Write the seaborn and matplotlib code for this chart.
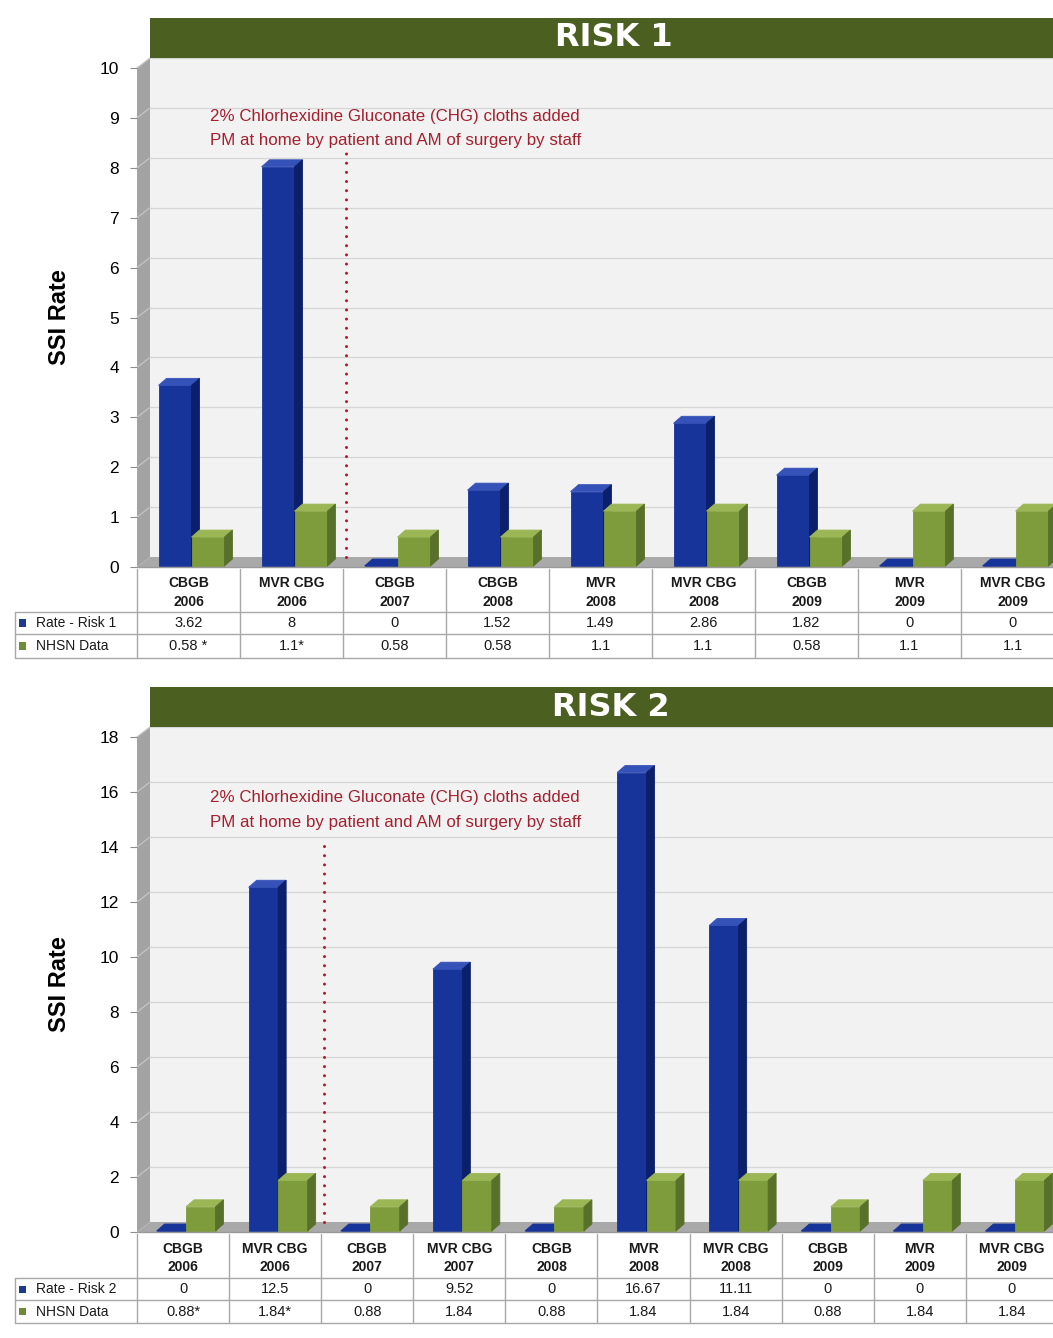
import numpy as np
import pandas as pd
import matplotlib
matplotlib.use("Agg")
import matplotlib.pyplot as plt
from matplotlib import font_manager
from matplotlib.patches import Polygon, Rectangle
from matplotlib.lines import Line2D
from matplotlib.transforms import IdentityTransform
import seaborn as sns

# ---------------- data ----------------
cats_risk1 = ["CBGB\n2006", "MVR CBG\n2006", "CBGB\n2007", "CBGB\n2008", "MVR\n2008",
              "MVR CBG\n2008", "CBGB\n2009", "MVR\n2009", "MVR CBG\n2009"]
rate_risk1 = [3.62, 8, 0, 1.52, 1.49, 2.86, 1.82, 0, 0]
nhsn_risk1 = [0.58, 1.1, 0.58, 0.58, 1.1, 1.1, 0.58, 1.1, 1.1]
rate_text_risk1 = ["3.62", "8", "0", "1.52", "1.49", "2.86", "1.82", "0", "0"]
nhsn_text_risk1 = ["0.58 *", "1.1*", "0.58", "0.58", "1.1", "1.1", "0.58", "1.1", "1.1"]
ticks_risk1 = [0, 1, 2, 3, 4, 5, 6, 7, 8, 9, 10]

cats_risk2 = ["CBGB\n2006", "MVR CBG\n2006", "CBGB\n2007", "MVR CBG\n2007", "CBGB\n2008",
              "MVR\n2008", "MVR CBG\n2008", "CBGB\n2009", "MVR\n2009", "MVR CBG\n2009"]
rate_risk2 = [0, 12.5, 0, 9.52, 0, 16.67, 11.11, 0, 0, 0]
nhsn_risk2 = [0.88, 1.84, 0.88, 1.84, 0.88, 1.84, 1.84, 0.88, 1.84, 1.84]
rate_text_risk2 = ["0", "12.5", "0", "9.52", "0", "16.67", "11.11", "0", "0", "0"]
nhsn_text_risk2 = ["0.88*", "1.84*", "0.88", "1.84", "0.88", "1.84", "1.84", "0.88", "1.84", "1.84"]
ticks_risk2 = [0, 2, 4, 6, 8, 10, 12, 14, 16, 18]

note_lines = ["2% Chlorhexidine Gluconate (CHG) cloths added",
              "PM at home by patient and AM of surgery by staff"]

# ---------------- style ----------------
W, H = 1053, 1338
sns.set_theme(style="white")
available = {f.name for f in font_manager.fontManager.ttflist}
NARROW = "Liberation Sans Narrow" if "Liberation Sans Narrow" in available else "Liberation Sans"
plt.rcParams["font.family"] = ["Liberation Sans", "DejaVu Sans"]

BLUE, BLUE_TOP, BLUE_SIDE = "#17349b", "#3552b8", "#0c1f6a"
GREEN, GREEN_TOP, GREEN_SIDE = "#7e9c3c", "#9bb655", "#58712a"
HEADER = "#4b5f21"
WALL_D = (13, 10)   # depth of floor / side wall, px
BAR_D = (8, 7)      # depth of each bar, px
BAR_SHIFT = 3       # bars stand slightly inside the floor, px

fig = plt.figure(figsize=(W / 100, H / 100), dpi=100, facecolor="white")


def fx(x):
    return x / W


def fy(y):
    return 1 - y / H


def fig_line(x1, y1, x2, y2, color="#a6a6a6", lw=1.0):
    fig.add_artist(Line2D([fx(x1), fx(x2)], [fy(y1), fy(y2)], transform=fig.transFigure,
                          color=color, lw=lw))


def draw_panel(cats, rate, nhsn, rate_text, nhsn_text, ticks, series_name,
               col_w, y_zero, y_top, rows, note_y, line_span, title):
    n = len(cats)
    x_left = 137
    ymax = ticks[-1]
    ax = fig.add_axes([fx(x_left), fy(y_zero), n * col_w / W, (y_zero - y_top) / H])

    df = pd.DataFrame({
        "category": cats + cats,
        "value": rate + nhsn,
        "series": [series_name] * n + ["NHSN Data"] * n,
    })
    sns.barplot(data=df, x="category", y="value", hue="series", order=cats,
                hue_order=[series_name, "NHSN Data"], palette=[BLUE, GREEN],
                width=0.64, saturation=1, legend=False, errorbar=None, ax=ax)
    bars = sorted([p for p in ax.patches if isinstance(p, Rectangle)], key=lambda p: p.get_x())

    ax.set_xlim(-0.5, n - 0.5)
    ax.set_ylim(0, ymax)
    ax.set_facecolor("none")
    for s in ax.spines.values():
        s.set_visible(False)
    ax.set_xticks([])
    ax.set_xlabel("")
    ax.set_ylabel("")
    ax.set_yticks(ticks)
    ax.set_yticklabels([str(t) for t in ticks])
    ax.tick_params(axis="y", left=True, length=5, width=0.8, color="#8c8c8c",
                   labelsize=12.5, labelcolor="black", pad=8)

    T = ax.transData
    dx, dy = WALL_D
    ident = IdentityTransform()

    def D(x, y):
        return T.transform((x, y))

    p0 = D(-0.5, 0)
    p1 = D(n - 0.5, 0)
    ptop = D(-0.5, ymax)

    # back wall
    ax.add_patch(Rectangle((p0[0] + dx, p0[1] + dy), p1[0] - p0[0], ptop[1] - p0[1],
                           facecolor="#f2f2f2", edgecolor="none", transform=ident,
                           zorder=0.1, clip_on=False))
    # left side wall
    ax.add_patch(Polygon([(p0[0], p0[1]), (p0[0], ptop[1]), (p0[0] + dx, ptop[1] + dy),
                          (p0[0] + dx, p0[1] + dy)], closed=True, facecolor="#a3a3a3",
                         edgecolor="none", transform=ident, zorder=0.2, clip_on=False))
    # gridlines on the back wall and across the side wall
    for v in ticks[1:]:
        yy = D(-0.5, v)[1]
        ax.add_line(Line2D([p0[0] + dx, p1[0] + dx], [yy + dy, yy + dy], color="#d6d6d6",
                           lw=0.9, transform=ident, zorder=0.3, clip_on=False))
        ax.add_line(Line2D([p0[0], p0[0] + dx], [yy, yy + dy], color="#c4c4c4",
                           lw=0.9, transform=ident, zorder=0.3, clip_on=False))
    # floor
    ax.add_patch(Polygon([(p0[0], p0[1]), (p1[0], p1[1]), (p1[0] + dx, p1[1] + dy),
                          (p0[0] + dx, p0[1] + dy)], closed=True, facecolor="#a9a9a9",
                         edgecolor="none", transform=ident, zorder=0.4, clip_on=False))

    # extruded bars
    bdx, bdy = BAR_D
    shift = matplotlib.transforms.Affine2D().translate(BAR_SHIFT, 1)
    for i, bar in enumerate(bars):
        x0, w, h = bar.get_x(), bar.get_width(), bar.get_height()
        is_blue = abs(bar.get_facecolor()[2] - matplotlib.colors.to_rgba(BLUE)[2]) < 0.05
        top_c, side_c = (BLUE_TOP, BLUE_SIDE) if is_blue else (GREEN_TOP, GREEN_SIDE)
        front = bar.get_facecolor()
        if h == 0:
            top_c = matplotlib.colors.to_hex(front)
        z = 2 + i * 0.01
        a = D(x0, 0) + (BAR_SHIFT, 1)
        b = D(x0 + w, h) + (BAR_SHIFT, 1)
        bar.set_transform(ax.transData + shift)
        bar.set_zorder(z)
        bar.set_edgecolor(front)
        bar.set_linewidth(0.6)
        ax.add_patch(Polygon([(a[0], b[1]), (b[0], b[1]), (b[0] + bdx, b[1] + bdy),
                              (a[0] + bdx, b[1] + bdy)], closed=True, facecolor=top_c,
                             edgecolor=top_c, lw=0.6, transform=ident, zorder=z, clip_on=False))
        ax.add_patch(Polygon([(b[0], a[1]), (b[0], b[1]), (b[0] + bdx, b[1] + bdy),
                              (b[0] + bdx, a[1] + bdy)], closed=True, facecolor=side_c,
                             edgecolor=side_c, lw=0.6, transform=ident, zorder=z, clip_on=False))

    # dotted marker between 2006 and 2007 data
    lx = D(1.5, 0)[0] + 3
    ly0 = D(1.5, line_span[0])[1]
    ly1 = D(1.5, line_span[1])[1]
    ax.add_line(Line2D([lx, lx], [ly0, ly1], color="#b01a2c", lw=2.2,
                       linestyle=(0, (0.001, 3.0)), dash_capstyle="round",
                       transform=ident, zorder=1.5, clip_on=False))

    # annotation
    for k, line in enumerate(note_lines):
        fig.text(fx(210), fy(note_y + 25 * k), line, color="#a3202f", fontsize=12.2,
                 family=[NARROW, "DejaVu Sans"], va="center", ha="left")

    # header bar
    hx0 = p0[0] + dx
    hx1 = p1[0] + dx
    wall_top_img = y_top - dy
    fig.add_artist(Rectangle((fx(hx0), fy(wall_top_img)), (hx1 - hx0) / W, 40 / H,
                             transform=fig.transFigure, facecolor=HEADER, edgecolor="none"))
    fig.text(fx((hx0 + hx1) / 2), fy(wall_top_img - 20), title, color="white",
             fontsize=23, fontweight="heavy", family="DejaVu Sans", ha="center", va="center")

    # y label
    fig.text(fx(60), fy((y_zero + y_top) / 2), "SSI Rate", rotation=90, fontsize=17,
             fontweight="bold", ha="center", va="center", color="black")

    # data table
    edges = [D(i - 0.5, 0)[0] for i in range(n + 1)]
    r_head, r1, r2 = rows
    grid_c = "#a8a8a8"
    fig_line(edges[0], y_zero, edges[-1], y_zero, color="#9a9a9a")
    fig_line(15, r_head, edges[-1], r_head, color=grid_c)
    fig_line(15, r1, edges[-1], r1, color=grid_c)
    fig_line(15, r2, edges[-1], r2, color=grid_c)
    fig_line(15, r_head, 15, r2, color=grid_c)
    for e in edges:
        fig_line(e, y_zero + 2, e, r2, color=grid_c)
    for i in range(n):
        cx = (edges[i] + edges[i + 1]) / 2
        fig.text(fx(cx), fy((y_zero + r_head) / 2 + 3), cats[i], fontsize=10,
                 fontweight="bold", family=[NARROW, "DejaVu Sans"], ha="center",
                 va="center", linespacing=1.4, color="#1a1a1a")
        fig.text(fx(cx), fy((r_head + r1) / 2), rate_text[i], fontsize=10.5,
                 family=[NARROW, "DejaVu Sans"], ha="center", va="center", color="#1a1a1a")
        fig.text(fx(cx), fy((r1 + r2) / 2), nhsn_text[i], fontsize=10.5,
                 family=[NARROW, "DejaVu Sans"], ha="center", va="center", color="#1a1a1a")
    for (ry0, ry1), lab, col in [((r_head, r1), series_name, "#1c3a8e"),
                                  ((r1, r2), "NHSN Data", "#6e8c35")]:
        cy = (ry0 + ry1) / 2
        fig.add_artist(Rectangle((fx(19), fy(cy + 3.5)), 7 / W, 7 / H,
                                 transform=fig.transFigure, facecolor=col, edgecolor="none"))
        fig.text(fx(36), fy(cy), lab, fontsize=10, family=[NARROW, "DejaVu Sans"],
                 ha="left", va="center", color="#1a1a1a")
    return ax


draw_panel(cats_risk1, rate_risk1, nhsn_risk1, rate_text_risk1, nhsn_text_risk1,
           ticks_risk1, "Rate - Risk 1", col_w=103.0, y_zero=567, y_top=68,
           rows=(612, 634, 658), note_y=116, line_span=(0.2, 8.35), title="RISK 1")

draw_panel(cats_risk2, rate_risk2, nhsn_risk2, rate_text_risk2, nhsn_text_risk2,
           ticks_risk2, "Rate - Risk 2", col_w=92.1, y_zero=1232, y_top=737,
           rows=(1278, 1300, 1323), note_y=798, line_span=(0.36, 14.3), title="RISK 2")

fig.savefig("out.png", dpi=100, facecolor="white")
